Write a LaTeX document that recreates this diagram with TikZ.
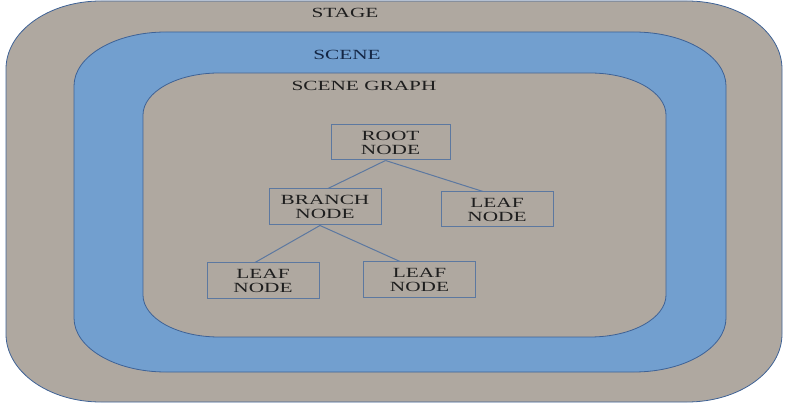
\documentclass[tikz,border=0pt]{standalone}
\usepackage{fontspec}
\setmainfont{Liberation Serif}
\newfontfamily\diagfont{Liberation Serif}[FakeStretch=1.52]
\usepackage{tikz}
\usetikzlibrary{positioning}

\definecolor{panelgray}{RGB}{175,168,160}
\definecolor{sceneblue}{RGB}{114,159,207}
\definecolor{edgeblue}{RGB}{62,98,150}
\definecolor{linkblue}{RGB}{92,120,160}
\definecolor{labeltext}{RGB}{30,30,30}
\definecolor{scenetext}{RGB}{20,38,68}

% panel with elliptical corners: style, x1, y1, x2, y2, rx, ry
\newcommand{\roundpanel}[7]{%
  \path[#1] (#2+#6,#3) -- (#4-#6,#3)
    arc[start angle=-90, end angle=0, x radius=#6, y radius=#7] -- (#4,#5-#7)
    arc[start angle=0, end angle=90, x radius=#6, y radius=#7] -- (#2+#6,#5)
    arc[start angle=90, end angle=180, x radius=#6, y radius=#7] -- (#2,#3+#7)
    arc[start angle=180, end angle=270, x radius=#6, y radius=#7] -- cycle;}

\begin{document}
\begin{tikzpicture}[
    x=1pt, y=1pt,
    every node/.style={font=\diagfont\fontsize{14}{14}\selectfont, text=labeltext},
    panel/.style={draw=edgeblue, line width=0.8pt},
    treenode/.style={draw=linkblue, line width=1pt, inner sep=0pt, minimum width=112pt, minimum height=36pt, align=center, text depth=0pt},
    link/.style={draw=linkblue, line width=1pt}
]
    \useasboundingbox (0,0) rectangle (786,404);

    % Stage / Scene / Scene graph panels
    \roundpanel{panel, fill=panelgray}{6}{2}{782}{403}{95}{68}
    \roundpanel{panel, fill=sceneblue}{74}{32}{726}{372}{92}{54}
    \roundpanel{panel, fill=panelgray}{143}{67}{666}{331}{76}{42}

    % Labels
    \node (stage) at (345,391) {STAGE};
    \node[text=scenetext] (scene) at (347,349) {SCENE};
    \node (graph) at (364,318) {SCENE GRAPH};

    % Tree
    \node[treenode, minimum width=119pt, minimum height=35pt] (root) at (390.5,261.5) {ROOT\\NODE};
    \node[treenode] (branch) at (325,197) {BRANCH\\NODE};
    \node[treenode, minimum height=35pt] (leafr) at (497,194.5) {LEAF\\NODE};
    \node[treenode] (leafl) at (263,123) {LEAF\\NODE};
    \node[treenode] (leafm) at (419.5,124) {LEAF\\NODE};

    \draw[link] ([xshift=-5pt]root.south) -- ([xshift=3pt]branch.north);
    \draw[link] ([xshift=-5pt]root.south) -- ([xshift=-14pt]leafr.north);
    \draw[link] ([xshift=-5pt]branch.south) -- ([xshift=-8pt]leafl.north);
    \draw[link] ([xshift=-5pt]branch.south) -- ([xshift=-19.5pt]leafm.north);

\end{tikzpicture}
\end{document}
